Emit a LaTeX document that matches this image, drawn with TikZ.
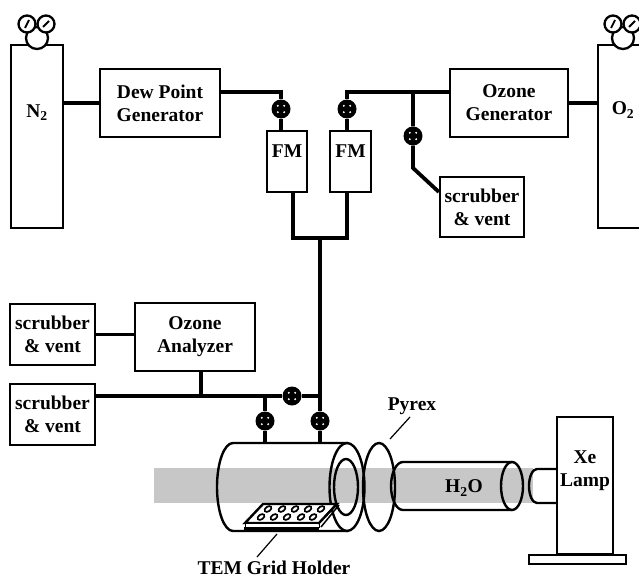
\documentclass[tikz,border=0pt]{standalone}
\usepackage{fontspec}
\setmainfont{Liberation Serif}
\usetikzlibrary{positioning}

\tikzset{
	lab/.style = {font=\fontsize{19.5}{23}\selectfont\bfseries, align=center, inner sep=0pt},
	box/.style = {draw, line width=2.3pt, minimum width=#1, inner sep=0pt, lab},
	pipe/.style = {line width=3.8pt},
	tube/.style = {line width=2.4pt},
	gauge/.style = {draw, circle, line width=2.3pt, fill=white, inner sep=0pt, minimum size=#1},
	valve/.style = {circle, fill=black, inner sep=0pt, minimum size=19pt, path picture={
		\foreach \ang in {45,135,225,315}
			\fill[white] (path picture bounding box.center) ++(\ang:4.5pt) circle (1.1pt);
	}}
}

\begin{document}
\begin{tikzpicture}[x=1pt, y=-1pt]
	\useasboundingbox (0,0) rectangle (639,578);
	\clip (0,0) rectangle (639,578);

	% light beam
	\fill[black!22] (154,468) rectangle (533,503);

	% gas cylinders
	\node[box=52pt, minimum height=183pt] (n2) at (37,136.5) {};
	\node[box=82pt, minimum height=183pt] (o2) at (639,136.5) {};
	\node[lab] (n2lab) at (37,113) {N\textsubscript{2}};
	\node[lab] (o2lab) at (623,110) {O\textsubscript{2}};

	\foreach \cx/\nam in {37/n, 623/o} {
		\node[gauge=22pt] (\nam g) at (\cx,38) {};
		\node[gauge=17pt] (\nam gl) at (\cx-10,24) {};
		\node[gauge=17pt] (\nam gr) at (\cx+9,24) {};
		\draw[line width=1.8pt] (\cx-12,28) -- (\cx-8,20);
		\draw[line width=1.8pt] (\cx+6,27) -- (\cx+12,21);
	}

	% boxes
	\node[box=120pt, minimum height=68pt] (dew) at (160,103) {Dew Point\\Generator};
	\node[box=118pt, minimum height=68pt] (ozg) at (509,103) {Ozone\\Generator};
	\node[box=84pt, minimum height=60pt] (scr1) at (482,207) {scrubber\\\& vent};
	\node[box=85pt, minimum height=61pt] (scr2) at (52.5,334.5) {scrubber\\\& vent};
	\node[box=85pt, minimum height=61pt] (scr3) at (52.5,414.5) {scrubber\\\& vent};
	\node[box=120pt, minimum height=68pt] (oza) at (195,337) {Ozone\\Analyzer};

	\node[box=40pt, minimum height=61pt] (fm1) at (287,161.5) {};
	\node[box=41pt, minimum height=61pt] (fm2) at (350.5,161.5) {};
	\node[lab, below=14.5pt of fm1.north] (fm1lab) {FM};
	\node[lab, below=14.5pt of fm2.north] (fm2lab) {FM};

	% valves
	\node[valve] (v1) at (281,109) {};
	\node[valve] (v2) at (347,109) {};
	\node[valve] (v3) at (413,136) {};
	\node[valve] (v4) at (292,396) {};
	\node[valve] (v5) at (265,421) {};
	\node[valve] (v6) at (320,421) {};

	\coordinate (j1) at (281,92);
	\coordinate (j2) at (347,92);
	\coordinate (j3) at (413,92);
	\coordinate (j4) at (413,168);
	\coordinate (j5) at (293,238);
	\coordinate (j6) at (347,238);
	\coordinate (j7) at (320,238);
	\coordinate (j8) at (320,396);
	\coordinate (j9) at (201,396);
	\coordinate (j10) at (265,396);
	\coordinate (top1) at (265,443);
	\coordinate (top2) at (320,443);

	% pipes
	\draw[pipe] (n2.east |- dew) -- (dew.west);
	\draw[pipe] (ozg.east) -- (o2.west |- ozg);
	\draw[pipe] (dew.east |- j1) -- (j1) -- (v1) -- (fm1.north -| v1);
	\draw[pipe] (ozg.west |- j2) -- (j2) -- (v2) -- (fm2.north -| v2);
	\draw[pipe] (j3) -- (v3) -- (j4) -- (scr1.west |- 0,192);
	\draw[pipe] (fm1.south -| j5) -- (j5) -- (j6) -- (fm2.south -| j6);
	\draw[pipe] (j7) -- (j8) -- (v6) -- (top2);
	\draw[pipe] (scr3.east |- j8) -- (v4) -- (j8);
	\draw[pipe] (j10) -- (v5) -- (top1);
	\draw[pipe] (scr2.east) -- (oza.west |- scr2);
	\draw[pipe] (oza.south -| j9) -- (j9);

	% chamber
	\draw[tube] (348,443) -- (233,443) arc (-90:-270:16 and 44) -- (348,531);
	\draw[tube] (347,487) ellipse (17.5 and 44);
	\draw[tube] (346,487) ellipse (12 and 28);
	\draw[tube] (379,487) ellipse (16 and 44);

	% water cell and lamp
	\draw[tube] (512,462) -- (403,462) arc (-90:-270:12 and 24) -- (512,510);
	\draw[tube] (512,486) ellipse (11 and 24);
	\draw[tube] (557,469) -- (537,469) arc (-90:-270:8 and 17) -- (557,503);
	\node[box=56pt, minimum height=137pt] (lamp) at (585,485.5) {};
	\node[box=97pt, minimum height=9pt] (base) at (577.5,559.5) {};
	\node[lab] (h2o) at (464,488) {H\textsubscript{2}O};
	\node[lab] (xe) at (585,471) {Xe\\Lamp};

	% grid holder
	\draw[tube, fill=white] (245,523) -- (263,504) -- (337,504) -- (319,523) -- cycle;
	\draw[line width=1pt, fill=white] (245,523) rectangle (319,527);
	\draw[line width=4pt] (244,529) -- (319,529);
	\draw[line width=1.5pt] (321,527) -- (339,505);
	\draw[line width=1.2pt] (318,524) -- (335,505);
	\foreach \hx in {268,282,295,308,321}
		\draw[line width=1.7pt, rotate around={35:(\hx,509)}] (\hx,509) ellipse (3.8 and 2.4);
	\foreach \hx in {261,274,287,301,313}
		\draw[line width=1.7pt, rotate around={35:(\hx,517)}] (\hx,517) ellipse (3.8 and 2.4);

	% labels
	\node[lab] (pyrex) at (412,406) {Pyrex};
	\node[lab] (holder) at (274,568) {TEM Grid Holder};
	\coordinate (pyrexend) at (390,439);
	\coordinate (holdend) at (277,534);
	\draw[line width=1.2pt] (410,417) -- (pyrexend);
	\draw[line width=1.2pt] (257,557) -- (holdend);
\end{tikzpicture}
\end{document}
